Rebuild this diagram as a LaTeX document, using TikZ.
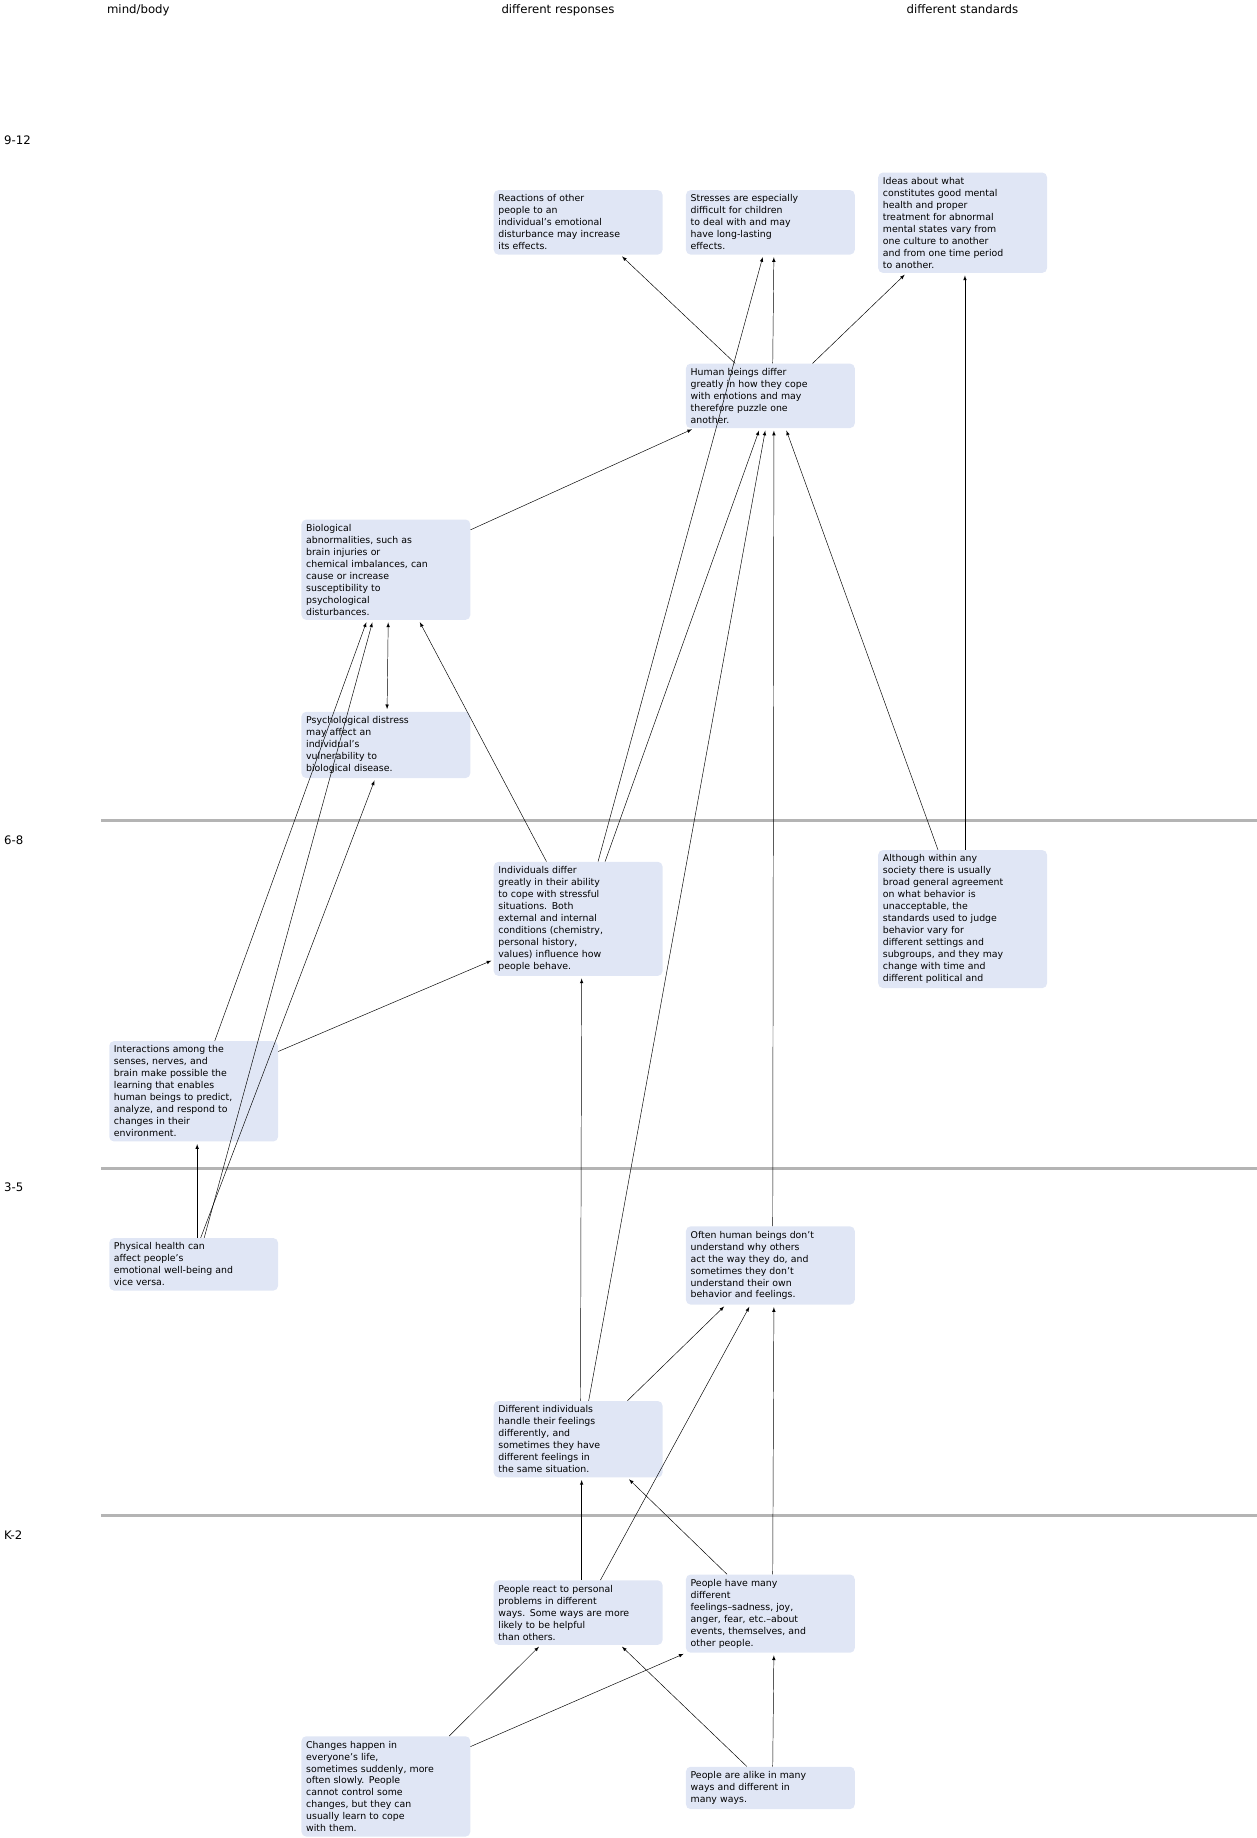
\documentclass[tikz,border=0pt]{standalone}
\usepackage{fontspec}
\setmainfont{DejaVu Sans}
\usetikzlibrary{arrows}
\definecolor{boxfill}{RGB}{224,230,245}
\definecolor{bandgray}{RGB}{180,180,180}
\tikzset{
  topic/.style={fill=boxfill, rounded corners=4pt, anchor=north west,
    align=left, text width=136pt, inner sep=4pt,
    font=\fontsize{8}{10.2}\selectfont},
  head/.style={font=\fontsize{10}{12}\selectfont, anchor=north},
  grade/.style={font=\fontsize{10}{12}\selectfont, anchor=west},
  link/.style={-latex, shorten >=2pt},
}
\begin{document}
\begin{tikzpicture}[x=1pt, y=-1pt]
\useasboundingbox (0,0) rectangle (1072,1568);

% column and grade headings
\node[head] (hmind) at (118,0) {mind/body};
\node[head] (hresp) at (476,0) {different responses};
\node[head] (hstd)  at (821,0) {different standards};
\node[grade] (g912) at (0,120) {9-12};
\node[grade] (g68)  at (0,717) {6-8};
\node[grade] (g35)  at (0,1013) {3-5};
\node[grade] (gK2)  at (0,1310) {K-2};

% grade bands
\draw[bandgray, line width=3pt] (86,700) -- (1072,700);
\draw[bandgray, line width=3pt] (86,997) -- (1072,997);
\draw[bandgray, line width=3pt] (86,1293) -- (1072,1293);

% 9-12
\node[topic] (react) at (421,162) {Reactions of other\\people to an\\individual's emotional\\disturbance may increase\\its effects.};
\node[topic] (stress) at (585,162) {Stresses are especially\\difficult for children\\to deal with and may\\have long-lasting\\effects.};
\node[topic] (ideas) at (749,147) {Ideas about what\\constitutes good mental\\health and proper\\treatment for abnormal\\mental states vary from\\one culture to another\\and from one time period\\to another.};
\node[topic] (cope) at (585,310) {Human beings differ\\greatly in how they cope\\with emotions and may\\therefore puzzle one\\another.};
\node[topic] (bio) at (257,443) {Biological\\abnormalities, such as\\brain injuries or\\chemical imbalances, can\\cause or increase\\susceptibility to\\psychological\\disturbances.};
\node[topic] (distress) at (257,607) {Psychological distress\\may affect an\\individual's\\vulnerability to\\biological disease.};

% 6-8
\node[topic] (ability) at (421,735) {Individuals differ\\greatly in their ability\\to cope with stressful\\situations. Both\\external and internal\\conditions (chemistry,\\personal history,\\values) influence how\\people behave.};
\node[topic] (society) at (749,725) {Although within any\\society there is usually\\broad general agreement\\on what behavior is\\unacceptable, the\\standards used to judge\\behavior vary for\\different settings and\\subgroups, and they may\\change with time and\\different political and};
\node[topic] (senses) at (93,888) {Interactions among the\\senses, nerves, and\\brain make possible the\\learning that enables\\human beings to predict,\\analyze, and respond to\\changes in their\\environment.};

% 3-5
\node[topic] (health) at (93,1056) {Physical health can\\affect people's\\emotional well-being and\\vice versa.};
\node[topic] (often) at (585,1046) {Often human beings don't\\understand why others\\act the way they do, and\\sometimes they don't\\understand their own\\behavior and feelings.};
\node[topic] (handle) at (421,1195) {Different individuals\\handle their feelings\\differently, and\\sometimes they have\\different feelings in\\the same situation.};

% K-2
\node[topic] (problems) at (421,1348) {People react to personal\\problems in different\\ways. Some ways are more\\likely to be helpful\\than others.};
\node[topic] (feelings) at (585,1343) {People have many\\different\\feelings--sadness, joy,\\anger, fear, etc.--about\\events, themselves, and\\other people.};
\node[topic] (changes) at (257,1481) {Changes happen in\\everyone's life,\\sometimes suddenly, more\\often slowly. People\\cannot control some\\changes, but they can\\usually learn to cope\\with them.};
\node[topic] (alike) at (585,1507) {People are alike in many\\ways and different in\\many ways.};

% connectors
\draw[link] ([xshift=-30pt]cope.north) -- ([xshift=36pt]react.south);
\draw[link] ([xshift=17pt]ability.north) -- ([xshift=-6pt]stress.south);
\draw[link] ([xshift=2pt]cope.north) -- ([xshift=3pt]stress.south);
\draw[link] ([xshift=36pt]cope.north) -- ([xshift=-48pt]ideas.south);
\draw[link] ([yshift=-9pt]bio.north east) -- ([xshift=-65pt]cope.south);
\draw[link] ([xshift=23pt]ability.north) -- ([xshift=-9pt]cope.south);
\draw[link] ([xshift=9pt]handle.north) -- ([xshift=-4pt]cope.south);
\draw[link] ([xshift=2pt]often.north) -- ([xshift=3pt]cope.south);
\draw[link] ([xshift=-21pt]society.north) -- ([xshift=13pt]cope.south);
\draw[link] ([xshift=2pt]society.north) -- ([xshift=2pt]ideas.south);
\draw[latex-latex, shorten >=2pt, shorten <=2pt] ([xshift=1pt]distress.north) -- ([xshift=2pt]bio.south);
\draw[link] ([xshift=18pt]senses.north) -- ([xshift=-16pt]bio.south);
\draw[link] ([xshift=9pt]health.north) -- ([xshift=-11pt]bio.south);
\draw[link] ([xshift=6pt]health.north) -- ([xshift=-9pt]distress.south);
\draw[link] ([xshift=3pt]health.north) -- ([xshift=3pt]senses.south);
\draw[link] ([yshift=-9pt]senses.north east) -- ([yshift=14pt]ability.south west);
\draw[link] ([xshift=-27pt]ability.north) -- ([xshift=28pt]bio.south);
\draw[link] ([xshift=2pt]handle.north) -- ([xshift=3pt]ability.south);
\draw[link] ([xshift=42pt]handle.north) -- ([xshift=-38pt]often.south);
\draw[link] ([xshift=3pt]problems.north) -- ([xshift=3pt]handle.south);
\draw[link] ([xshift=19pt]problems.north) -- ([xshift=-17pt]often.south);
\draw[link] ([xshift=-37pt]feelings.north) -- ([xshift=42pt]handle.south);
\draw[link] ([xshift=2pt]feelings.north) -- ([xshift=3pt]often.south);
\draw[link] ([xshift=54pt]changes.north) -- ([xshift=-32pt]problems.south);
\draw[link] ([yshift=-9pt]changes.north east) -- (feelings.south west);
\draw[link] ([xshift=-20pt]alike.north) -- ([xshift=36pt]problems.south);
\draw[link] ([xshift=2pt]alike.north) -- ([xshift=3pt]feelings.south);
\end{tikzpicture}
\end{document}
